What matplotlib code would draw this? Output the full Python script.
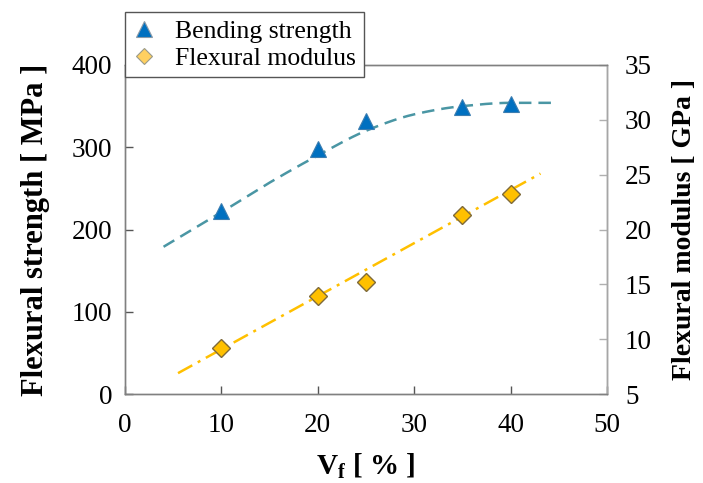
import numpy as np
import matplotlib
matplotlib.use("Agg")
import matplotlib.pyplot as plt
from matplotlib.lines import Line2D

# Data
vf = [10, 20, 25, 35, 40]
bending_strength = [222, 298, 332, 349, 353]      # MPa (left axis)
flexural_modulus = [9.2, 13.9, 15.2, 21.3, 23.2]  # GPa (right axis)

# Trend lines
trend_s_x = [4, 10, 15, 20, 25, 30, 35, 40, 44.3]
trend_s_y = [179, 221, 257, 290, 320, 340, 350, 354, 354]
trend_m_x = [5.5, 43.1]
trend_m_y = [6.9, 25.1]

x_ticks = [0, 10, 20, 30, 40, 50]
left_ticks = [0, 100, 200, 300, 400]
right_ticks = [5, 10, 15, 20, 25, 30, 35]


def pchip(x, y, xn):
    x = np.asarray(x, float); y = np.asarray(y, float)
    h = np.diff(x); d = np.diff(y) / h
    m = np.zeros_like(y)
    for k in range(1, len(x) - 1):
        if d[k-1] * d[k] > 0:
            w1 = 2*h[k] + h[k-1]; w2 = h[k] + 2*h[k-1]
            m[k] = (w1 + w2) / (w1/d[k-1] + w2/d[k])
    m[0] = d[0]; m[-1] = d[-1] if d[-1] != 0 else 0
    idx = np.clip(np.searchsorted(x, xn) - 1, 0, len(x) - 2)
    t = (xn - x[idx]) / h[idx]
    h00 = 2*t**3 - 3*t**2 + 1; h10 = t**3 - 2*t**2 + t
    h01 = -2*t**3 + 3*t**2; h11 = t**3 - t**2
    return h00*y[idx] + h10*h[idx]*m[idx] + h01*y[idx+1] + h11*h[idx]*m[idx+1]


plt.rcParams['font.family'] = ['Liberation Serif', 'DejaVu Serif']
plt.rcParams['mathtext.fontset'] = 'custom'
plt.rcParams['mathtext.rm'] = 'Liberation Serif'
plt.rcParams['mathtext.bf'] = 'Liberation Serif:bold'

fig = plt.figure(figsize=(7.03, 4.83), dpi=100)
ax = fig.add_axes([125/703, 1-394/483, (607-125)/703, (394-65)/483])
ax2 = ax.twinx()

xs = np.linspace(trend_s_x[0], trend_s_x[-1], 300)
ax.plot(xs, pchip(trend_s_x, trend_s_y, xs), linestyle=(0, (5, 2.8)), color='#4A96A4', lw=1.8, zorder=2)
ax.plot(vf, bending_strength, linestyle='none', marker='^', markersize=11,
        markerfacecolor='#0070C0', markeredgecolor='#3B7DB0', markeredgewidth=0.8, zorder=3)

ax2.plot(trend_m_x, trend_m_y, linestyle=(0, (6.5, 2.5, 1.2, 2.5)), color='#FFC000', lw=1.8, zorder=2)
ax2.plot(vf, flexural_modulus, linestyle='none', marker='D', markersize=9,
         markerfacecolor='#FFC000', markeredgecolor='#7F6A3A', markeredgewidth=1.0, zorder=3)

ax.set_xlim(0, 50)
ax.set_ylim(0, 400)
ax2.set_ylim(5, 35)
ax.set_xticks(x_ticks)
ax.set_yticks(left_ticks)
ax2.set_yticks(right_ticks)

for a in (ax, ax2):
    for s in a.spines.values():
        s.set_color('#808080')
        s.set_linewidth(1.0)
ax2.spines['right'].set_color('#a6a6a6')

ax.tick_params(axis='both', direction='in', length=6, width=1, color='#555555',
               labelsize=19.5, pad=9)
ax.tick_params(axis='x', pad=14)
ax2.tick_params(axis='y', direction='in', length=6, width=1, color='#b0b0b0',
                labelsize=19.5, pad=13)

ax.set_ylabel('Flexural strength [ MPa ]', fontsize=22, fontweight='bold', labelpad=16)
ax2.set_ylabel('Flexural modulus [ GPa ]', fontsize=20, fontweight='bold', labelpad=14)
ax.set_xlabel(r'V$_\mathbf{f}$ [ % ]', fontsize=21, fontweight='bold', labelpad=9)

handles = [
    Line2D([], [], linestyle='none', marker='^', markersize=11,
           markerfacecolor='#0070C0', markeredgecolor='#8a9aa8', markeredgewidth=0.8),
    Line2D([], [], linestyle='none', marker='D', markersize=8,
           markerfacecolor='#FFD060', markeredgecolor='#9a9a8a', markeredgewidth=0.8),
]
leg = fig.legend(handles, ['Bending strength', 'Flexural modulus'],
                 loc='upper left', bbox_to_anchor=(125/703, 1-12/483),
                 frameon=True, fancybox=False, framealpha=1, edgecolor='#555555',
                 fontsize=18.5, handlelength=0.9, handletextpad=0.75,
                 borderpad=0.3, labelspacing=0.15, borderaxespad=0)
leg.get_frame().set_linewidth(1.0)

fig.savefig('out.png', dpi=100)
